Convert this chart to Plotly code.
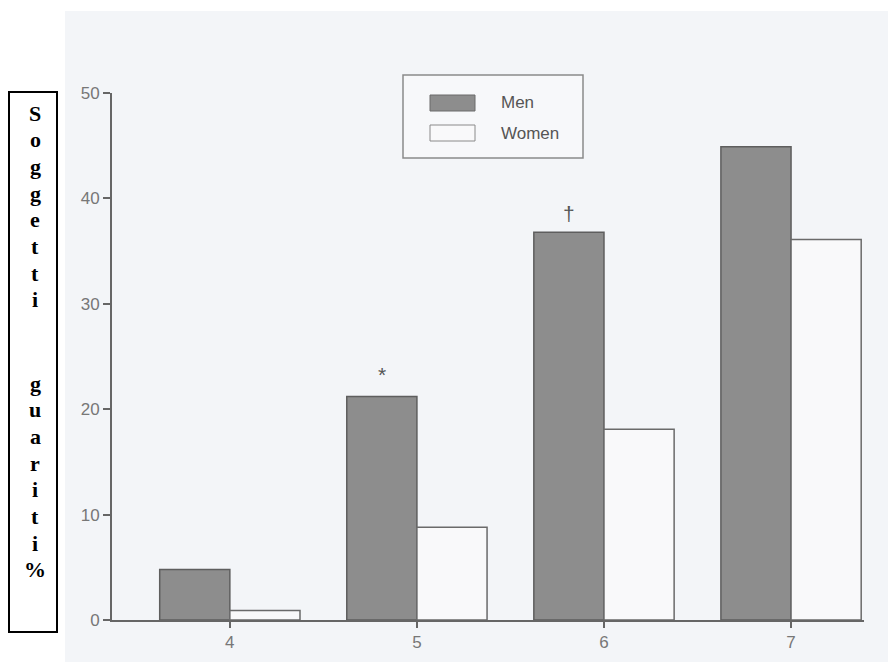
import plotly.graph_objects as go

categories = [4, 5, 6, 7]
men = [4.8, 21.2, 36.8, 44.9]
women = [0.9, 8.8, 18.1, 36.1]
y_ticks = [0, 10, 20, 30, 40, 50]
series_names = ["Men", "Women"]
marks = {5: "*", 6: "\u2020"}
title_word1 = "Soggetti"
title_word2 = "guariti%"

OFF = 8  # page body margin
W, H = 888, 654
L, R, T, B = 104, 32, 85, 42
pw, ph = W - L - R, H - T - B

def px_x(p):
    return (p - OFF - L) / pw

def px_y(p):
    return (H - B - (p - OFF)) / ph

fig = go.Figure()
fig.add_trace(go.Bar(x=categories, y=men, name=series_names[0],
                     marker=dict(color="#8d8d8d", line=dict(color="#5e5e5e", width=1.5))))
fig.add_trace(go.Bar(x=categories, y=women, name=series_names[1],
                     marker=dict(color="#f9f9fa", line=dict(color="#6a6a6a", width=1.5))))

shapes = []
shapes.append(dict(type="rect", xref="paper", yref="paper", layer="below",
                   x0=px_x(65), x1=px_x(900), y0=px_y(670), y1=px_y(11),
                   fillcolor="#f3f5f8", line=dict(width=0)))
shapes.append(dict(type="rect", xref="paper", yref="paper",
                   x0=px_x(9), x1=px_x(57), y0=px_y(632), y1=px_y(92),
                   fillcolor="white", line=dict(color="black", width=2)))
shapes.append(dict(type="rect", xref="paper", yref="paper",
                   x0=px_x(403), x1=px_x(583), y0=px_y(158), y1=px_y(75),
                   fillcolor="#f7f8fa", line=dict(color="#8a8a8a", width=1.5)))
shapes.append(dict(type="rect", xref="paper", yref="paper",
                   x0=px_x(430), x1=px_x(475), y0=px_y(111), y1=px_y(95),
                   fillcolor="#8d8d8d", line=dict(color="#6a6a6a", width=1)))
shapes.append(dict(type="rect", xref="paper", yref="paper",
                   x0=px_x(430), x1=px_x(475), y0=px_y(141), y1=px_y(125),
                   fillcolor="#f9f9fa", line=dict(color="#8a8a8a", width=1)))

annotations = []
for name, yy in zip(series_names, [103, 133]):
    annotations.append(dict(xref="paper", yref="paper", x=px_x(499), y=px_y(yy),
                            text=name, showarrow=False, xanchor="left", yanchor="middle",
                            font=dict(family="Liberation Sans, Arial", size=17, color="#555")))

step = 26.7
letter_y = [113 + i * step for i in range(len(title_word1))] + \
           [383 + i * step for i in range(len(title_word2))]
for ch, yy in zip(list(title_word1) + list(title_word2), letter_y):
    annotations.append(dict(xref="paper", yref="paper", x=px_x(35), y=px_y(yy),
                            text="<b>" + ch + "</b>", showarrow=False,
                            xanchor="center", yanchor="middle",
                            font=dict(family="Liberation Serif, Times New Roman", size=22,
                                      color="black")))

bar_off = 0.1875
for c, m in marks.items():
    i = categories.index(c)
    annotations.append(dict(x=c - bar_off, y=men[i], text=m, showarrow=False,
                            yanchor="bottom", yshift=9 if m == "*" else 5,
                            font=dict(family="Liberation Sans, Arial", size=21, color="#555")))

fig.update_layout(
    width=W, height=H,
    margin=dict(l=L, r=R, t=T, b=B, pad=0, autoexpand=False),
    paper_bgcolor="white", plot_bgcolor="rgba(0,0,0,0)",
    barmode="group", bargap=0.25, bargroupgap=0,
    showlegend=False,
    shapes=shapes, annotations=annotations,
    font=dict(family="Liberation Sans, Arial", color="#777"),
)
fig.update_xaxes(range=[3.37, 7.39], tickvals=categories, ticktext=[str(c) for c in categories],
                 showgrid=False, zeroline=False, showline=True, linecolor="#666", linewidth=2,
                 ticks="outside", ticklen=6, tickcolor="#666", tickwidth=1.5,
                 tickfont=dict(size=17, color="#777"))
fig.update_yaxes(range=[0, 50], tickvals=y_ticks, showgrid=False, zeroline=False,
                 showline=True, linecolor="#666", linewidth=2,
                 ticks="outside", ticklen=7, tickcolor="#666", tickwidth=1.5,
                 tickfont=dict(size=17, color="#777"))

fig.write_html("out.html")
